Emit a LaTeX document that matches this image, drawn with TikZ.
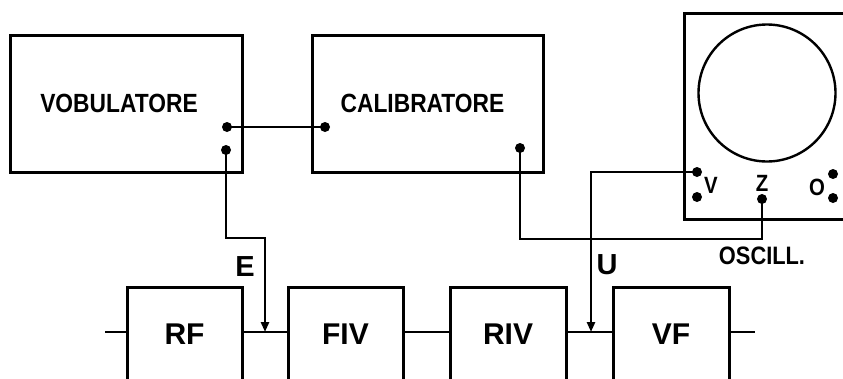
\documentclass[tikz,border=0pt]{standalone}
\usepackage{fontspec}
\setmainfont{Liberation Sans}
\usetikzlibrary{arrows.meta}
\newcommand{\tallx}[1]{\scalebox{0.97}[1.12]{#1}}
\begin{document}
\begin{tikzpicture}[x=1pt,y=-1pt,
  wire/.style={line width=2.7pt},
  box/.style={draw, line width=3pt, inner sep=0pt},
  big/.style={font=\bfseries\fontsize{23.5}{23.5}\selectfont},
  blk/.style={box, minimum width=115pt, minimum height=96pt, font=\bfseries\fontsize{30}{30}\selectfont},
  dot/.style={circle, fill, inner sep=0pt, minimum size=10pt},
  lab/.style={font=\bfseries\fontsize{21}{21}\selectfont, inner sep=0pt},
  sig/.style={font=\bfseries\fontsize{29}{29}\selectfont, inner sep=0pt},
  tip/.style={-{Triangle[length=10pt,width=8pt]}}
]
\path[use as bounding box] (0,0) rectangle (843,378);
\clip (0,0) rectangle (843,378);
% top boxes
\node[box, big, minimum width=232pt, minimum height=137pt] (vob) at (126,103.5) {\hspace*{-14pt}\tallx{VOBULATORE}};
\node[box, big, minimum width=231pt, minimum height=137pt] (cal) at (427.5,103.5) {\hspace*{-10pt}\tallx{CALIBRATORE}};
% oscilloscope
\node[box, minimum width=175pt, minimum height=206pt, anchor=north west] (osc) at (683,12) {};
\node[draw, circle, line width=2.4pt, minimum size=137pt, inner sep=0pt] (scr) at (767,93) {};
\node[lab] (vl) at (711,185) {\tallx{V}};
\node[lab] (zl) at (762,183) {\tallx{Z}};
\node[lab] (ol) at (817,187) {\tallx{O}};
\node[lab, font=\bfseries\fontsize{22.5}{22.5}\selectfont] (oscl) at (762,256) {\tallx{OSCILL.}};
% dots
\node[dot] (vob1) at (227,127) {};
\node[dot] (vob2) at (226,150) {};
\node[dot] (cal1) at (325,127) {};
\node[dot] (cal2) at (520,148) {};
\node[dot] (v1) at (697,172) {};
\node[dot] (v2) at (697,197) {};
\node[dot] (z1) at (762,199) {};
\node[dot] (o1) at (833,174) {};
\node[dot] (o2) at (833,198) {};
% bottom chain
\node[blk] (rf) at (184.5,335) {\raisebox{2pt}{RF}};
\node[blk] (fiv) at (345.5,335) {\raisebox{2pt}{FIV}};
\node[blk, minimum width=116pt] (riv) at (508,335) {\raisebox{2pt}{RIV}};
\node[blk, minimum width=116pt] (vf) at (671,335) {\raisebox{2pt}{VF}};
\coordinate (in) at (105,332);
\coordinate (out) at (755,332);
\coordinate (ein) at (265,332);
\coordinate (uin) at (591,332);
\draw[wire] (in) -- (rf.west |- in);
\draw[wire] (rf.east |- in) -- (fiv.west |- in);
\draw[wire] (fiv.east |- in) -- (riv.west |- in);
\draw[wire] (riv.east |- in) -- (vf.west |- in);
\draw[wire] (vf.east |- in) -- (out);
% wires
\draw[wire] (vob1.center) -- (cal1.center);
\draw[wire, tip] (vob2.center) -- ++(0,88) -| (ein);
\draw[wire, tip] (v1.center) -| (uin);
\draw[wire] (cal2.center) -- ++(0,91) -| (z1.center);
% labels
\node[sig] (el) at (245,267) {E};
\node[sig] (ul) at (607,265) {U};
\end{tikzpicture}
\end{document}
